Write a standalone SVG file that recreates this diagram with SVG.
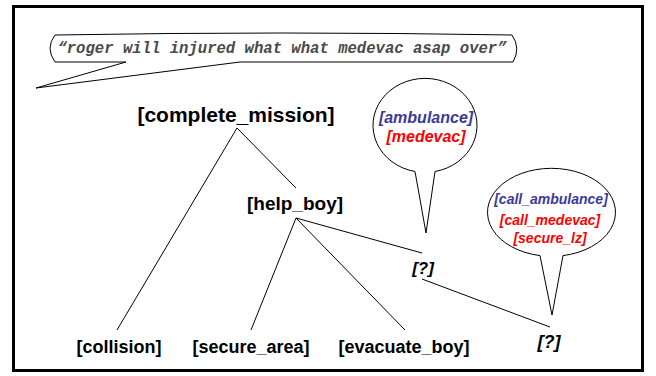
<svg xmlns="http://www.w3.org/2000/svg" width="656" height="376" viewBox="0 0 656 376">
<style>
.frame{fill:none;stroke:#000;stroke-width:3}
.bub{fill:#fff;stroke:#000;stroke-width:1}
.ln{stroke:#000;stroke-width:1;fill:none}
.node{font-family:"Liberation Sans",Arial,sans-serif;font-weight:bold;fill:#000;text-anchor:middle}
.q{font-family:"Liberation Sans",Arial,sans-serif;font-weight:bold;font-style:italic;fill:#000;text-anchor:middle}
.blue{font-family:"Liberation Sans",Arial,sans-serif;font-weight:bold;font-style:italic;fill:#3a3a9c;text-anchor:middle}
.red{font-family:"Liberation Sans",Arial,sans-serif;font-weight:bold;font-style:italic;fill:#ff0000;text-anchor:middle}
.speech{font-family:"Liberation Mono","Courier New",monospace;font-weight:bold;font-style:italic;fill:#4a4a4a;font-size:15.6px}
</style>
<rect class="frame" x="13.5" y="6.5" width="629" height="364"/>
<g id="speech">
<path class="bub" d="M55 35 Q283 31 512 35 Q521 48 513 62 L240 62 L36 88 L126 62 L55 62 Q45 48 55 35 Z"/>
<text class="speech" x="282" y="53" text-anchor="middle">“roger will injured what what medevac asap over”</text>
</g>
<g id="connectors">
<line class="ln" x1="237" y1="128" x2="296" y2="188"/>
<line class="ln" x1="237" y1="128" x2="117" y2="330"/>
<line class="ln" x1="296" y1="218" x2="251" y2="330"/>
<line class="ln" x1="296" y1="218" x2="405" y2="330"/>
<line class="ln" x1="296" y1="218" x2="422" y2="253"/>
<line class="ln" x1="422" y1="279" x2="550" y2="327"/>
</g>
<g id="complete_mission"><text class="node" x="236" y="122" font-size="21">[complete_mission]</text></g>
<g id="help_boy"><text class="node" x="295" y="210" font-size="19">[help_boy]</text></g>
<g id="collision"><text class="node" x="119" y="353" font-size="18">[collision]</text></g>
<g id="secure_area"><text class="node" x="251" y="353" font-size="18">[secure_area]</text></g>
<g id="evacuate_boy"><text class="node" x="404" y="353" font-size="18">[evacuate_boy]</text></g>
<g id="unknown1"><text class="q" x="423" y="274" font-size="17">[?]</text></g>
<g id="unknown2"><text class="q" x="549" y="348" font-size="18">[?]</text></g>
<g id="bubble_ambulance">
<path class="bub" d="M415 171.5 A52 47 0 1 1 435 171.5 L426 233 Z"/>
<text class="blue" x="426" y="123" font-size="16">[ambulance]</text>
<text class="red" x="426" y="142" font-size="16">[medevac]</text>
</g>
<g id="bubble_call">
<path class="bub" d="M540 255.6 A64 44 0 1 1 563 255.6 L552 315 Z"/>
<text class="blue" x="551" y="204" font-size="14">[call_ambulance]</text>
<text class="red" x="550" y="225" font-size="14">[call_medevac]</text>
<text class="red" x="550" y="243" font-size="14">[secure_lz]</text>
</g>
</svg>
